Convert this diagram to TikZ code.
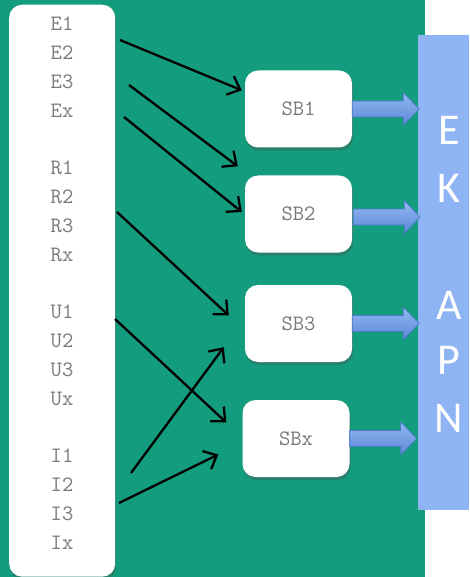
\documentclass[tikz,border=0pt]{standalone}
\usepackage{fontspec}
\newfontfamily\apnfont{Carlito}
\usetikzlibrary{arrows.meta,calc,shadows}
\definecolor{teal}{HTML}{149C7E}
\definecolor{apnblue}{HTML}{8EB4F4}
\definecolor{arrtop}{HTML}{93B7F2}
\definecolor{arrbot}{HTML}{5A88D6}
\definecolor{arrline}{HTML}{4A78C4}
\definecolor{labelgray}{HTML}{7A7A7A}
\tikzset{
  x=1pt, y=-1pt,
  whitebox/.style={fill=white, rounded corners=13pt,
    drop shadow={shadow xshift=1pt, shadow yshift=-3pt, opacity=0.35, fill=black!70}},
  sbbox/.style={whitebox, minimum width=107pt, minimum height=77pt, inner sep=0pt,
    font=\ttfamily\fontsize{22}{22}\selectfont, text=labelgray},
  item/.style={font=\ttfamily\fontsize{22}{22}\selectfont, text=labelgray, inner sep=0pt},
  letter/.style={font=\apnfont\fontsize{44}{44}\selectfont, text=white, inner sep=0pt},
  link/.style={draw=black, line width=2.3pt, -{Straight Barb[length=11pt, width=20pt, line width=2.3pt]}},
  blockarrow/.style={top color=arrtop, bottom color=arrbot, draw=arrline, line width=0.6pt, line join=miter}
}
\newcommand{\blockarrowat}[1]{%
  \begin{scope}[shift={(#1)}]
    \path[blockarrow] (0,-8) -- (51,-8) -- (51,-16.5) -- (67,0) -- (51,16.5) -- (51,8) -- (0,8) -- cycle;
  \end{scope}}
\begin{document}
\begin{tikzpicture}
\useasboundingbox (0,0) rectangle (469,577);
% background
\fill[teal] (0,0) rectangle (425,577);
\fill[white] (425,0) rectangle (469,577);
\node[fill=apnblue, minimum width=51pt, minimum height=475pt, inner sep=0pt, anchor=north west] (apn) at (418,35) {};

% input list
\begin{scope}
\clip (0,0) rectangle (469,577);
\node[whitebox, minimum width=106pt, minimum height=572pt, inner sep=0pt, anchor=north west] (list) at (9,4.5) {};
\end{scope}
\foreach \t [count=\i] in {E1,E2,E3,Ex} \node[item] (l\t) at (62,{24+28.9*(\i-1)}) {\t};
\foreach \t [count=\i] in {R1,R2,R3,Rx} \node[item] (l\t) at (62,{168+28.9*(\i-1)}) {\t};
\foreach \t [count=\i] in {U1,U2,U3,Ux} \node[item] (l\t) at (62,{312+28.9*(\i-1)}) {\t};
\foreach \t [count=\i] in {I1,I2,I3,Ix} \node[item] (l\t) at (62,{456+28.9*(\i-1)}) {\t};

% processing blocks
\node[sbbox] (sb1) at (298.5,109) {SB1};
\node[sbbox] (sb2) at (298.5,214) {SB2};
\node[sbbox] (sb3) at (298.5,323.5) {SB3};
\node[sbbox] (sbx) at (296,438.5) {SBx};

% APN letters
\node[letter] (cE) at (449,130) {E};
\node[letter] (cK) at (449,188) {K};
\node[letter] (cA) at (449,305) {A};
\node[letter] (cP) at (449,360) {P};
\node[letter] (cN) at (449,418) {N};

% block arrows into APN
\blockarrowat{sb1.east}
\blockarrowat{$(sb2.east)+(1,3)$}
\blockarrowat{sb3.east}
\blockarrowat{sbx.east}

% connector start points beside the list
\coordinate (s1) at (120,40);
\coordinate (s2) at (129,85);
\coordinate (s3) at (124,117);
\coordinate (s4) at (117,212);
\coordinate (s5) at (115,319);
\coordinate (s6) at (131,473);
\coordinate (s7) at (119,503);

\draw[link] (s1) -- ($(sb1.north west)+(-3,20)$);
\draw[link] (s2) -- ($(sb2.north west)+(-7,-9)$);
\draw[link] (s3) -- ($(sb2.west)+(-3,-2)$);
\draw[link] (s4) -- ($(sb3.west)+(-16,-8)$);
\draw[link] (s5) -- ($(sbx.west)+(-16,-16)$);
\draw[link] (s6) -- ($(sb3.south west)+(-21,-15)$);
\draw[link] (s7) -- ($(sbx.west)+(-24,16)$);
\end{tikzpicture}
\end{document}
